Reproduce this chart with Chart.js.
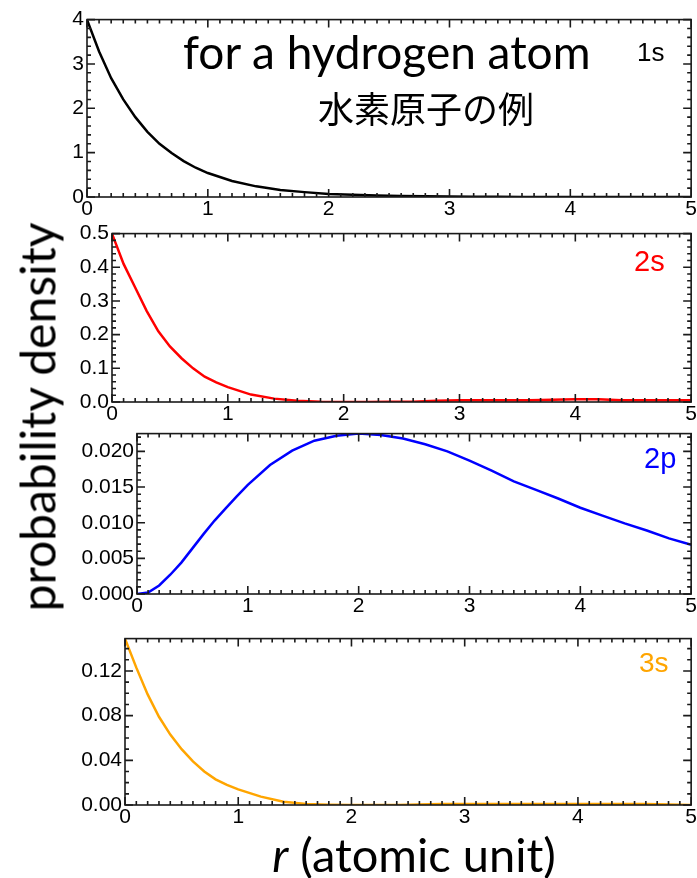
<!DOCTYPE html>
<html>
<head>
<meta charset="utf-8">
<script src="https://cdn.jsdelivr.net/npm/chart.js@4.4.0/dist/chart.umd.min.js"></script>
<style>
  body { margin: 0; background: #fff; }
  #wrap { position: relative; width: 697px; height: 878px; overflow: hidden; }
  canvas { position: absolute; left: 0; }
  .lbl { position: absolute; white-space: nowrap; line-height: 1; }
</style>
</head>
<body>
<div id="wrap">
  <canvas id="c1s" width="697" height="221" style="top:4px"></canvas>
  <canvas id="c2s" width="697" height="212" style="top:218px"></canvas>
  <canvas id="c2p" width="697" height="204" style="top:418px"></canvas>
  <canvas id="c3s" width="697" height="210" style="top:623px"></canvas>

  <div class="lbl" style="left:183px;top:24px;font:46px Lato,sans-serif;">for a hydrogen atom</div>
  <div class="lbl" style="left:318px;top:81px;font:36px 'Noto Sans CJK JP',sans-serif;">水素原子の例</div>
  <div class="lbl" style="left:637px;top:37px;font:26px 'Liberation Sans',sans-serif;">1s</div>
  <div class="lbl" style="left:634px;top:245px;font:29px 'Liberation Sans',sans-serif;color:#ff0000;">2s</div>
  <div class="lbl" style="left:644px;top:442px;font:29px 'Liberation Sans',sans-serif;color:#0000ff;">2p</div>
  <div class="lbl" style="left:639px;top:647px;font:28px 'Liberation Sans',sans-serif;color:#ffa500;">3s</div>
  <div class="lbl" style="left:37px;top:417px;font:48px Lato,sans-serif;transform:translate(-50%,-50%) rotate(-90deg);">probability density</div>
  <div class="lbl" style="left:414px;top:826px;font:47px Lato,sans-serif;transform:translateX(-50%);"><i>r</i> (atomic unit)</div>
</div>

<script>
// r in atomic units
const rGrid = [0, 0.1, 0.2, 0.3, 0.4, 0.5, 0.6, 0.7, 0.8, 0.9, 1.0, 1.2, 1.4, 1.6, 1.8, 2.0,
  2.2, 2.4, 2.6, 2.8, 3.0, 3.2, 3.4, 3.6, 3.8, 4.0, 4.2, 4.4, 4.6, 4.8, 5.0];

// probability densities
const dens1s = [4.00, 3.28, 2.68, 2.20, 1.80, 1.47, 1.20, 0.99, 0.81, 0.66, 0.54, 0.36, 0.24, 0.16, 0.11, 0.07,
  0.05, 0.035, 0.025, 0.015, 0.01, 0.006, 0.004, 0.002, 0.001, 0, 0, 0, 0, 0, 0];
const dens2s = [0.500, 0.410, 0.340, 0.270, 0.210, 0.165, 0.130, 0.100, 0.075, 0.058, 0.044, 0.022, 0.010, 0.004, 0.001, 0.000,
  0.000, 0.0005, 0.001, 0.004, 0.005, 0.005, 0.005, 0.005, 0.007, 0.008, 0.008, 0.005, 0.005, 0.005, 0.005];
const dens2p = [0, 0.0002, 0.0012, 0.0027, 0.0044, 0.0064, 0.0084, 0.0103, 0.0120, 0.0137, 0.0153, 0.0181, 0.0201, 0.0215, 0.0222, 0.0225,
  0.0223, 0.0218, 0.0210, 0.0200, 0.0187, 0.0173, 0.0158, 0.0146, 0.0134, 0.0121, 0.0110, 0.0099, 0.0089, 0.0078, 0.0069];
const dens3s = [0.149, 0.123, 0.099, 0.079, 0.063, 0.050, 0.039, 0.030, 0.023, 0.018, 0.014, 0.0075, 0.003, 0.001, 0.0003, 0,
  0, 0, 0.0005, 0.001, 0.001, 0.001, 0.001, 0.001, 0.001, 0.001, 0.001, 0.001, 0.001, 0.0005, 0];

// tick labels
const xTicks = [0, 1, 2, 3, 4, 5];
const yTicks1s = [0, 1, 2, 3, 4];
const yTicks2s = [0, 0.1, 0.2, 0.3, 0.4, 0.5];
const yTicks2p = [0, 0.005, 0.010, 0.015, 0.020];
const yTicks3s = [0, 0.04, 0.08, 0.12];

const tickFont = { family: 'Liberation Sans', size: 21 };

// box round the plot with inward ticks on all four sides
const frameTicks = {
  id: 'frameTicks',
  afterDraw(chart, args, opts) {
    const { ctx, chartArea: a, scales: { x, y } } = chart;
    ctx.save();
    ctx.strokeStyle = '#1a1a1a';
    ctx.lineWidth = 1.6;
    ctx.strokeRect(a.left, a.top, a.right - a.left, a.bottom - a.top);
    ctx.beginPath();
    const marks = (scale, minor, major, fn) => {
      for (let i = 0; ; i++) {
        const v = scale.min + i * minor;
        if (v > scale.max + minor * 1e-3) break;
        const isMajor = Math.abs(v / major - Math.round(v / major)) < 1e-6;
        fn(scale.getPixelForValue(v), isMajor ? 8 : 4);
      }
    };
    marks(x, opts.xMinor, opts.xMajor, (px, len) => {
      ctx.moveTo(px, a.bottom); ctx.lineTo(px, a.bottom - len);
      ctx.moveTo(px, a.top); ctx.lineTo(px, a.top + len);
    });
    marks(y, opts.yMinor, opts.yMajor, (py, len) => {
      ctx.moveTo(a.left, py); ctx.lineTo(a.left + len, py);
      ctx.moveTo(a.right, py); ctx.lineTo(a.right - len, py);
    });
    ctx.stroke();
    ctx.restore();
  }
};

function makePanel(id, vals, color, yTicks, decimals, yMax, yMinor, yMajor, plotLeft) {
  return new Chart(document.getElementById(id), {
    type: 'scatter',
    data: {
      datasets: [{
        data: rGrid.map((r, i) => ({ x: r, y: vals[i] })),
        showLine: true,
        borderColor: color,
        borderWidth: 2.5,
        pointRadius: 0,
        tension: 0
      }]
    },
    options: {
      responsive: false,
      animation: false,
      devicePixelRatio: 1,
      layout: { padding: { top: 12, right: 5, left: 0, bottom: 0 } },
      plugins: {
        legend: { display: false },
        tooltip: { enabled: false },
        frameTicks: { xMinor: 0.1, xMajor: 1, yMinor: yMinor, yMajor: yMajor }
      },
      scales: {
        x: {
          type: 'linear', min: 0, max: 5,
          afterBuildTicks: s => { s.ticks = xTicks.map(v => ({ value: v })); },
          afterFit: s => { s.height = 28; },
          grid: { display: false, drawTicks: false },
          border: { display: false },
          ticks: { font: tickFont, color: '#000', padding: 0, maxRotation: 0, autoSkip: false, callback: v => String(v) }
        },
        y: {
          type: 'linear', min: 0, max: yMax,
          afterBuildTicks: s => { s.ticks = yTicks.map(v => ({ value: v })); },
          afterFit: s => { s.width = plotLeft; },
          grid: { display: false, drawTicks: false },
          border: { display: false },
          ticks: { font: tickFont, color: '#000', padding: 3, autoSkip: false, callback: v => v.toFixed(decimals) }
        }
      }
    },
    plugins: [frameTicks]
  });
}

makePanel('c1s', dens1s, '#000000', yTicks1s, 0, 4, 0.2, 1, 87);
makePanel('c2s', dens2s, '#ff0000', yTicks2s, 1, 0.5, 0.02, 0.1, 112);
makePanel('c2p', dens2p, '#0000ff', yTicks2p, 3, 0.0225, 0.001, 0.005, 137);
makePanel('c3s', dens3s, '#ffa500', yTicks3s, 2, 0.149, 0.01, 0.04, 125);
</script>
</body>
</html>
